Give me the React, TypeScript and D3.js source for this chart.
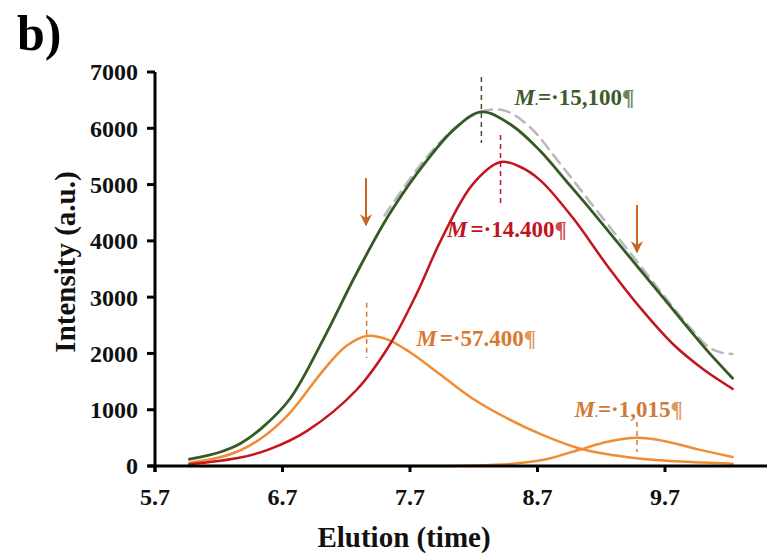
import React from "react";
import * as d3 from "d3";

// ---- data ----
const greenX = [5.97, 6.2, 6.37, 6.55, 6.76, 7.02, 7.28, 7.54, 7.83, 8.05, 8.26, 8.5, 8.72, 8.93, 9.1, 9.3, 9.5, 9.7, 9.9, 10.05, 10.23];
const greenY = [120, 240, 400, 700, 1200, 2250, 3420, 4480, 5420, 5990, 6290, 6050, 5600, 5050, 4600, 4050, 3500, 2950, 2400, 2000, 1560];

const redX = [5.97, 6.37, 6.6, 6.89, 7.28, 7.54, 7.75, 7.94, 8.19, 8.41, 8.55, 8.72, 8.98, 9.25, 9.51, 9.77, 10.0, 10.23];
const redY = [30, 150, 300, 620, 1350, 2150, 3050, 4000, 5000, 5400, 5330, 5080, 4400, 3550, 2800, 2150, 1720, 1370];

const orange1X = [5.97, 6.2, 6.37, 6.55, 6.76, 7.02, 7.2, 7.36, 7.52, 7.7, 7.94, 8.19, 8.46, 8.72, 9.03, 9.3, 9.6, 10.0, 10.23];
const orange1Y = [60, 150, 280, 520, 950, 1700, 2130, 2310, 2250, 2020, 1620, 1200, 850, 570, 310, 190, 110, 60, 40];

const orange2X = [5.97, 7.6, 8.2, 8.5, 8.75, 9.03, 9.25, 9.48, 9.7, 9.95, 10.23];
const orange2Y = [0, 0, 10, 40, 110, 290, 430, 500, 440, 300, 160];

const grayX = [7.5, 7.8, 8.05, 8.26, 8.45, 8.65, 8.85, 9.05, 9.3, 9.5, 9.7, 9.9, 10.05, 10.15, 10.23];
const grayY = [4450, 5400, 6000, 6300, 6310, 6000, 5450, 4870, 4150, 3580, 3000, 2450, 2100, 2010, 1990];

const xTicks = [5.7, 6.7, 7.7, 8.7, 9.7];
const yTicks = [0, 1000, 2000, 3000, 4000, 5000, 6000, 7000];

// peak markers: [x, yFrom, yTo, series]
const peakMarkers: [number, number, number, string][] = [
  [8.26, 6910, 5740, "green"],
  [8.41, 5880, 4640, "red"],
  [7.36, 2900, 1920, "orange"],
  [9.48, 780, 250, "orange"],
];
// arrows: [x, yFrom, yTo]
const arrows: [number, number, number][] = [
  [7.355, 5115, 4280],
  [9.48, 4636, 3800],
];
// labels: [x, y, modifier, value, series]
const labels: [number, number, string, string, string][] = [
  [8.52, 6410, ".", "15,100", "green"],
  [7.99, 4060, "\u00a0", "14.400", "red"],
  [7.75, 2140, "\u00a0", "57.400", "orange"],
  [8.99, 870, ".", "1,015", "orange2"],
];

const COLORS: Record<string, string> = {
  green: "#355a28",
  red: "#c4141e",
  orange: "#f08c34",
  gray: "#b8b8b8",
};
const LABEL_COLORS: Record<string, string> = {
  green: "#3d5a2a",
  red: "#c0141e",
  orange: "#d9782e",
  orange2: "#d07a35",
};
const MARK_COLORS: Record<string, string> = {
  green: "#4a4a3a",
  red: "#c4141e",
  orange: "#d9782e",
};

const FONT = "'Liberation Serif', 'Times New Roman', serif";

export default function App() {
  const W = 768, H = 560;
  const x = d3.scaleLinear().domain([5.7, 10.5]).range([155, 767]);
  const y = d3.scaleLinear().domain([0, 7000]).range([466, 72]);

  const line = d3
    .line<[number, number]>()
    .x((d) => x(d[0]))
    .y((d) => y(d[1]))
    .curve(d3.curveCatmullRom.alpha(0.5));

  const zip = (a: number[], b: number[]) => a.map((v, i) => [v, b[i]] as [number, number]);

  const series = [
    { pts: zip(grayX, grayY), color: COLORS.gray, dash: "11,7", w: 2.5 },
    { pts: zip(orange2X, orange2Y), color: COLORS.orange, w: 2.5 },
    { pts: zip(orange1X, orange1Y), color: COLORS.orange, w: 2.5 },
    { pts: zip(redX, redY), color: COLORS.red, w: 2.5 },
    { pts: zip(greenX, greenY), color: COLORS.green, w: 2.8 },
  ];

  return (
    <svg
      width={W}
      height={H}
      style={{ position: "absolute", left: 0, top: 0, background: "#fff" }}
      fontFamily={FONT}
      fontWeight="bold"
    >
      <defs>
        <marker id="ah" viewBox="0 0 10 10" refX="9" refY="5" markerWidth="6" markerHeight="6" orient="auto">
          <path d="M0,0 L10,5 L0,10 L3,5 Z" fill="#c8641e" />
        </marker>
      </defs>
      <rect width={W} height={H} fill="#fff" />
      <text x={17} y={50} fontSize={50} fill="#000">b)</text>

      {series.map((s, i) => (
        <path
          key={i}
          d={line(s.pts) || ""}
          fill="none"
          stroke={s.color}
          strokeWidth={s.w}
          strokeDasharray={s.dash}
          strokeLinecap="round"
        />
      ))}

      {peakMarkers.map(([px, a, b, c], i) => (
        <line
          key={i}
          x1={x(px)}
          x2={x(px)}
          y1={y(a)}
          y2={y(b)}
          stroke={MARK_COLORS[c]}
          strokeWidth={1.5}
          strokeDasharray="5,4"
        />
      ))}

      {arrows.map(([ax, a, b], i) => (
        <line
          key={i}
          x1={x(ax)}
          x2={x(ax)}
          y1={y(a)}
          y2={y(b)}
          stroke="#c8641e"
          strokeWidth={2}
          markerEnd="url(#ah)"
        />
      ))}

      {labels.map(([lx, ly, mod, val, c], i) => (
        <text key={i} x={x(lx)} y={y(ly)} fontSize={23} fill={LABEL_COLORS[c]}>
          <tspan fontStyle="italic">M</tspan>
          <tspan fontSize={12}>{mod}</tspan>
          <tspan>{"=\u00b7" + val}</tspan>
          <tspan opacity={0.75}>¶</tspan>
        </text>
      ))}

      <line x1={148} x2={767} y1={y(0)} y2={y(0)} stroke="#000" strokeWidth={3} />
      <line x1={x(5.7)} x2={x(5.7)} y1={y(0) + 6} y2={y(7000)} stroke="#000" strokeWidth={3} />
      {yTicks.map((t) => (
        <g key={t}>
          <line x1={x(5.7) - 8} x2={x(5.7)} y1={y(t)} y2={y(t)} stroke="#000" strokeWidth={3} />
          <text x={138} y={y(t)} dy="0.35em" textAnchor="end" fontSize={24} fill="#111">
            {t}
          </text>
        </g>
      ))}
      {xTicks.map((t) => (
        <g key={t}>
          <line x1={x(t)} x2={x(t)} y1={y(0)} y2={y(0) + 6} stroke="#000" strokeWidth={3} />
          <text x={x(t)} y={505} textAnchor="middle" fontSize={24} fill="#111">
            {t.toFixed(1)}
          </text>
        </g>
      ))}
      <text transform={`translate(75,262) rotate(-90)`} textAnchor="middle" fontSize={29} fill="#111">
        Intensity (a.u.)
      </text>
      <text x={404} y={547} textAnchor="middle" fontSize={29} fill="#111">
        Elution (time)
      </text>
    </svg>
  );
}
